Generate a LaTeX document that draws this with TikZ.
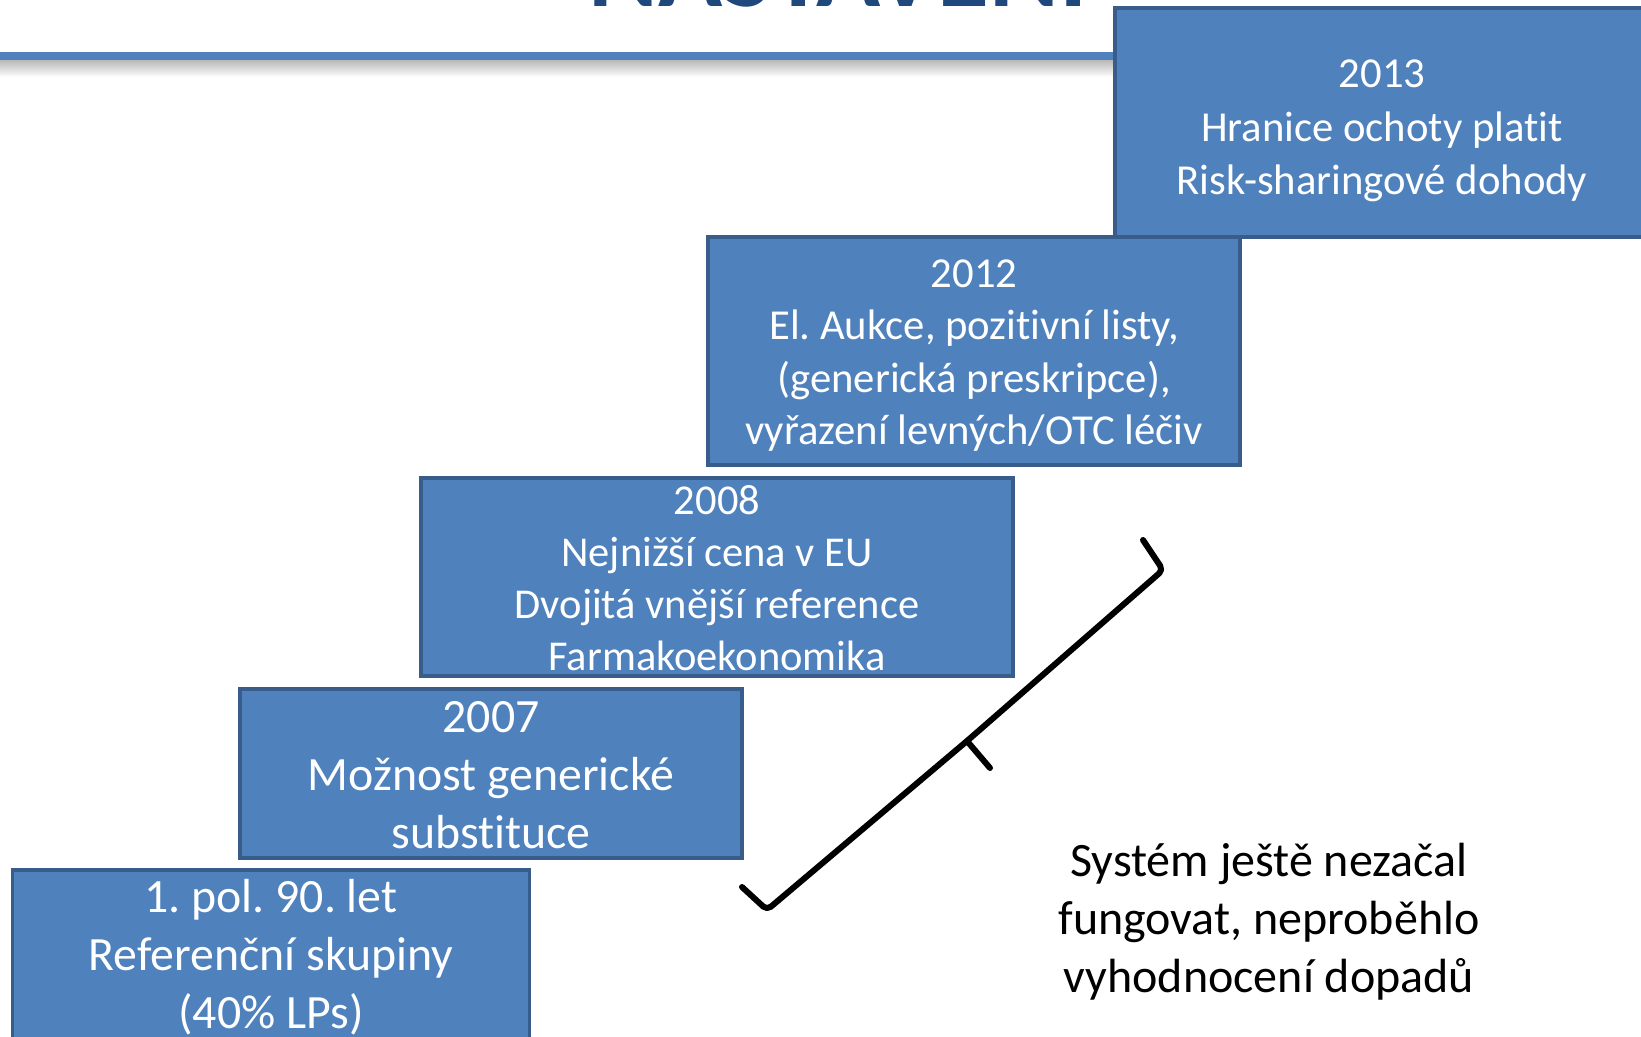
\documentclass[tikz,border=0pt]{standalone}
\usepackage{fontspec}
\setmainfont{Carlito}[Ligatures={NoCommon,NoRare,NoContextual}, Contextuals={NoAlternate}]
\frenchspacing
\newcommand\tsplit{t\kern0pt i}
\definecolor{boxfill}{HTML}{4F81BD}
\definecolor{boxline}{HTML}{385D8A}
\definecolor{titleblue}{HTML}{1F497D}
\begin{document}
\begin{tikzpicture}[x=1pt,y=-1pt,
  stepbox/.style={draw=boxline, fill=boxfill, line width=3.5pt, rectangle, inner sep=0pt},
  boxtext/.style={text=white, align=center, inner sep=0pt},
  note/.style={text=black, align=center, inner sep=0pt, font=\fontsize{48}{58.2}\selectfont},
  bracestyle/.style={draw=black, line width=6pt, line join=round, line cap=round, rounded corners=5pt}
]
\useasboundingbox (0,0) rectangle (1641,1036);
\clip (0,0) rectangle (1641,1036);
\fill[white] (0,0) rectangle (1641,1036);
% title (cut off at the top)
\node[anchor=base, text=titleblue, inner sep=0pt, font=\fontsize{106}{106}\selectfont\bfseries] (title) at (838,6) {NASTAVENÍ};
% header rule with shadow
\shade[top color=black!28, bottom color=white] (0,60) rectangle (1115,77);
\draw[line width=8pt, draw=boxfill] (0,56) -- (1115,56);
% boxes
\node[stepbox, minimum width=517, minimum height=230] (b1) at (271,985) {};
\node[stepbox, minimum width=502, minimum height=169] (b2007) at (491,773.5) {};
\node[stepbox, minimum width=592, minimum height=198] (b2008) at (717,577) {};
\node[stepbox, minimum width=532, minimum height=228] (b2012) at (974,351) {};
\node[stepbox, minimum width=545, minimum height=229] (b2013) at (1387.5,122.5) {};
% box texts
\node[boxtext, font=\fontsize{42.7}{53.5}\selectfont] (t2013) at (1382,131) {2013\\Hranice ochoty pla\tsplit t\\Risk-sharingové dohody};
\node[boxtext, font=\fontsize{42.7}{52.3}\selectfont] (t2012) at (974,355.7) {2012\\El. Aukce, pozi\tsplit vní listy,\\(generická preskripce),\\vyřazení levných/OTC léčiv};
\node[boxtext, font=\fontsize{42.5}{52}\selectfont] (t2008) at (717,578) {2008\\Nejnižší cena v EU\\Dvojitá vnější reference\\Farmakoekonomika};
\node[boxtext, font=\fontsize{47.8}{58}\selectfont] (t2007) at (491,775) {2007\\Možnost generické\\subs\tsplit tuce};
\node[boxtext, font=\fontsize{47.8}{58}\selectfont] (t1) at (271,957.6) {1. pol. 90. let\\Referenční skupiny\\(40\% LPs)};
% brace
\coordinate (brA) at (742,887);
\coordinate (brB) at (767,910);
\coordinate (brM) at (967,741);
\coordinate (brT) at (990,768);
\coordinate (brC) at (1163,570);
\coordinate (brD) at (1143,540);
\draw[bracestyle] (brA) -- (brB) -- (brM) -- (brC) -- (brD);
\draw[bracestyle] (brM) -- (brT);
% note
\node[note] (note) at (1269,921.5) {Systém ještě nezačal\\fungovat, neproběhlo\\vyhodnocení dopadů};
\end{tikzpicture}
\end{document}
